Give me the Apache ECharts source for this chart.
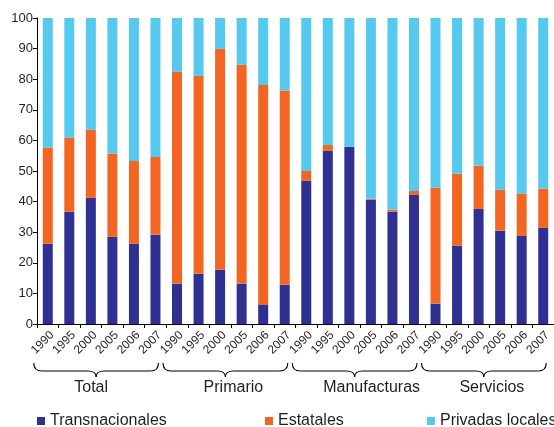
<!DOCTYPE html>
<html>
<head>
<meta charset="utf-8">
<script src="https://cdn.jsdelivr.net/npm/echarts@6/dist/echarts.min.js"></script>
<style>
  html, body { margin: 0; padding: 0; background: #fff; }
  #chart { width: 554px; height: 427px; }
</style>
</head>
<body>
<div id="chart"></div>
<script>
var years = ['1990', '1995', '2000', '2005', '2006', '2007'];
var groups = ['Total', 'Primario', 'Manufacturas', 'Servicios'];
var seriesNames = ['Transnacionales', 'Estatales', 'Privadas locales'];

// participación (%) por año dentro de cada sector
var transnacionales = [26.2, 36.7, 41.2, 28.5, 26.2, 29.2,
                       13.2, 16.4, 17.7, 13.2, 6.4, 12.8,
                       46.8, 56.6, 57.9, 40.6, 36.7, 42.2,
                       6.6, 25.6, 37.6, 30.5, 28.8, 31.4];
var estatales = [31.5, 24.2, 22.3, 27.2, 27.1, 25.4,
                 69.3, 64.7, 72.2, 71.5, 71.7, 63.5,
                 3.2, 1.9, 0, 0.3, 0.6, 1.3,
                 37.9, 23.5, 14.1, 13.4, 13.8, 12.8];
var privadas = [42.3, 39.1, 36.5, 44.3, 46.7, 45.4,
                17.5, 18.9, 10.1, 15.3, 21.9, 23.7,
                50.0, 41.5, 42.1, 59.1, 62.7, 56.5,
                55.5, 50.9, 48.3, 56.1, 57.4, 55.8];

var colors = ['#2e3192', '#f26522', '#56c9ef'];
var font = "'Liberation Sans', Arial, sans-serif";
var txt = '#231f20';

var categories = [];
groups.forEach(function () {
    years.forEach(function (y) { categories.push(y); });
});

var chart = echarts.init(document.getElementById('chart'));

function bar(name, data, color) {
    return {
        name: name, type: 'bar', stack: 'all', data: data,
        barWidth: 10, itemStyle: {color: color}, silent: true
    };
}

function legendAt(left, name) {
    return {
        left: left, top: 413, padding: 0,
        icon: 'rect', itemWidth: 8, itemHeight: 8,
        textStyle: {fontFamily: font, fontSize: 16, color: txt},
        data: [name], selectedMode: false
    };
}

chart.setOption({
    animation: false,
    textStyle: {fontFamily: font},
    grid: {left: 37, right: -6, top: 18, bottom: 103, containLabel: false},
    legend: [legendAt(37, seriesNames[0]), legendAt(265, seriesNames[1]), legendAt(427, seriesNames[2])],
    xAxis: {
        type: 'category', data: categories,
        axisLine: {lineStyle: {color: '#000', width: 1}},
        axisTick: {show: true, interval: 0, length: 4, lineStyle: {color: '#000'}},
        axisLabel: {interval: 0, rotate: 45, margin: 5, fontSize: 12, color: txt,
                    fontFamily: font, verticalAlign: 'top'}
    },
    yAxis: {
        type: 'value', min: 0, max: 100, interval: 10,
        axisLine: {show: true, lineStyle: {color: '#000', width: 1}},
        axisTick: {show: true, length: 4, lineStyle: {color: '#000'}},
        axisLabel: {fontSize: 13, color: txt, margin: 4, fontFamily: font},
        splitLine: {show: false}
    },
    series: [
        bar(seriesNames[0], transnacionales, colors[0]),
        bar(seriesNames[1], estatales, colors[1]),
        bar(seriesNames[2], privadas, colors[2])
    ]
});

// llaves y nombres de sector bajo el eje
var labelShift = [-5, 8, 17, 8];
var elements = [];
var braceStyle = {stroke: '#000', lineWidth: 1.1, fill: null};
function curve(xa, ya, xb, yb, cx, cy) {
    return {type: 'bezierCurve', silent: true,
            shape: {x1: xa, y1: ya, x2: xb, y2: yb, cpx1: cx, cpy1: cy}, style: braceStyle};
}
function seg(xa, xb, y) {
    return {type: 'line', silent: true,
            shape: {x1: xa, y1: y, x2: xb, y2: y}, style: braceStyle};
}
groups.forEach(function (g, gi) {
    var first = gi * years.length, last = first + years.length - 1;
    var x1 = chart.convertToPixel({xAxisIndex: 0}, first) - 14;
    var x2 = chart.convertToPixel({xAxisIndex: 0}, last) + 3;
    var tip = (x1 + x2) / 2;
    var y0 = 363, y1 = 371, y2 = 377, r = 8;
    elements.push(curve(x1, y0, x1 + r, y1, x1, y1));
    elements.push(seg(x1 + r, tip - r, y1));
    elements.push(curve(tip - r, y1, tip, y2, tip, y1));
    elements.push(curve(tip, y2, tip + r, y1, tip, y1));
    elements.push(seg(tip + r, x2 - r, y1));
    elements.push(curve(x2 - r, y1, x2, y0, x2, y1));
    elements.push({
        type: 'text', silent: true,
        x: tip + labelShift[gi], y: 380,
        style: {text: g, fontFamily: font, fontSize: 16, fill: txt, align: 'center', verticalAlign: 'top'}
    });
});
chart.setOption({graphic: elements});
</script>
</body>
</html>
